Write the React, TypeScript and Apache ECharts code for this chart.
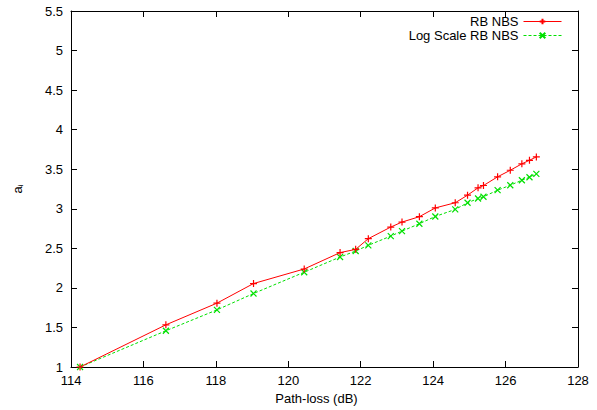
import React, { useEffect, useRef } from "react";
import * as echarts from "echarts";

const pathLoss = [114.25, 116.62, 118.03, 119.04, 120.44, 121.43, 121.86, 122.21, 122.83, 123.14, 123.62, 124.06, 124.61, 124.95, 125.24, 125.39, 125.78, 126.13, 126.45, 126.66, 126.85];
const rbNbs = [1.0, 1.533, 1.807, 2.055, 2.239, 2.446, 2.487, 2.622, 2.769, 2.832, 2.9, 3.011, 3.076, 3.172, 3.265, 3.294, 3.404, 3.487, 3.568, 3.613, 3.656];
const logScaleRbNbs = [1.0, 1.458, 1.722, 1.929, 2.198, 2.39, 2.466, 2.538, 2.655, 2.718, 2.811, 2.903, 2.992, 3.076, 3.13, 3.152, 3.235, 3.298, 3.361, 3.399, 3.442];
const seriesNames = ["RB NBS", "Log Scale RB NBS"];

const FONT = "Liberation Sans, Arial, Helvetica, sans-serif";
const FS = 13;
const PLUS = "path://M0,-1L0,1M-1,0L1,0";
const CROSS = "path://M-1,-1L1,1M-1,1L1,-1";

export default function App() {
  const ref = useRef<HTMLDivElement>(null);
  useEffect(() => {
    if (!ref.current) return;
    const chart = echarts.init(ref.current, null, { renderer: "svg" });
    const axisCommon = {
      axisLine: { show: true, lineStyle: { color: "#000", width: 1 } },
      axisTick: { show: true, inside: true, length: 6, lineStyle: { color: "#000" } },
      splitLine: { show: false },
    };
    chart.setOption({
      animation: false,
      backgroundColor: "#fff",
      textStyle: { fontFamily: FONT },
      grid: { left: 71, right: 19, top: 11, bottom: 42, containLabel: false },
      legend: {
        data: seriesNames,
        orient: "vertical",
        right: 35,
        top: 15,
        padding: 0,
        align: "right",
        itemWidth: 38,
        itemHeight: 7,
        itemGap: 1,
        lineStyle: { width: 1 },
        textStyle: { fontFamily: FONT, fontSize: FS, color: "#000", lineHeight: 13 },
      },
      xAxis: [
        {
          type: "value",
          min: 114,
          max: 128,
          interval: 2,
          name: "Path-loss (dB)",
          nameLocation: "middle",
          nameGap: 25,
          nameTextStyle: { fontFamily: FONT, fontSize: FS, color: "#000", padding: [0, 16, 0, 0] },
          axisLabel: { fontFamily: FONT, fontSize: FS, color: "#000", margin: 7 },
          ...axisCommon,
        },
        {
          type: "value",
          position: "top",
          min: 114,
          max: 128,
          interval: 2,
          axisLabel: { show: false },
          ...axisCommon,
        },
      ],
      yAxis: [
        {
          type: "value",
          min: 1,
          max: 5.5,
          interval: 0.5,
          name: "a{sub|i}",
          nameLocation: "middle",
          nameGap: 47,
          nameRotate: 90,
          nameTextStyle: {
            fontFamily: FONT,
            fontSize: FS,
            color: "#000",
            rich: { sub: { fontSize: 8, verticalAlign: "bottom", padding: [6, 0, 0, 0], fontFamily: FONT, color: "#000" } },
          },
          axisLabel: { fontFamily: FONT, fontSize: FS, color: "#000", margin: 8 },
          ...axisCommon,
        },
        {
          type: "value",
          position: "right",
          min: 1,
          max: 5.5,
          interval: 0.5,
          axisLabel: { show: false },
          ...axisCommon,
        },
      ],
      series: [
        {
          name: seriesNames[0],
          type: "line",
          data: pathLoss.map((x, i) => [x, rbNbs[i]]),
          symbol: PLUS,
          symbolSize: 7,
          showAllSymbol: true,
          lineStyle: { color: "#ff0000", width: 1 },
          itemStyle: { color: "#ff0000", borderColor: "#ff0000", borderWidth: 1.2 },
          z: 3,
        },
        {
          name: seriesNames[1],
          type: "line",
          data: pathLoss.map((x, i) => [x, logScaleRbNbs[i]]),
          symbol: CROSS,
          symbolSize: 6,
          showAllSymbol: true,
          lineStyle: { color: "#00e000", width: 1, type: [3, 2] },
          itemStyle: { color: "#00e000", borderColor: "#00e000", borderWidth: 1.2 },
          z: 2,
        },
      ],
    });
    return () => chart.dispose();
  }, []);
  return <div ref={ref} style={{ width: 597, height: 410, position: "absolute", left: 0, top: 0 }} />;
}
